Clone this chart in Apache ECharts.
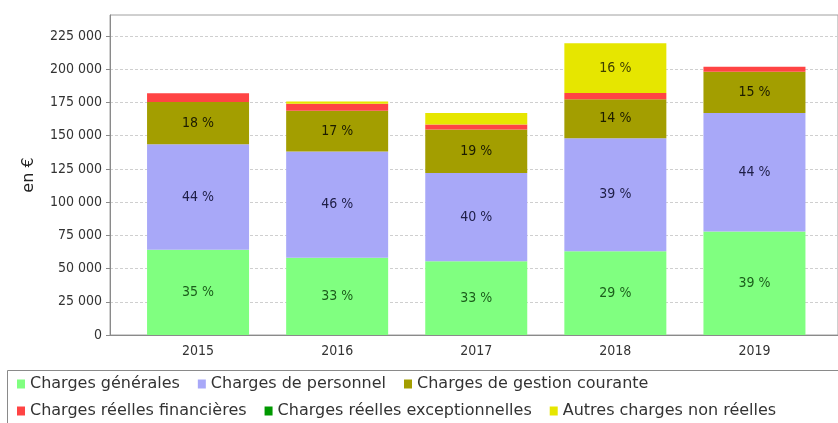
<!DOCTYPE html>
<html>
<head>
<meta charset="utf-8">
<script src="https://cdn.jsdelivr.net/npm/echarts@6/dist/echarts.min.js"></script>
<style>
  html, body { margin: 0; padding: 0; background: #fff; }
  #chart { width: 838px; height: 423px; }
</style>
</head>
<body>
<div id="chart"></div>
<script>
// data
const years = ['2015', '2016', '2017', '2018', '2019'];
const chargesGenerales = [64100, 58100, 55500, 63100, 77900];
const chargesPersonnel = [79400, 80000, 66400, 85000, 89200];
const chargesGestion = [31900, 30700, 32700, 29400, 31000];
const chargesFinancieres = [6600, 5300, 3800, 4700, 3700];
const chargesExceptionnelles = [0, 0, 0, 0, 0];
const autresCharges = [0, 1700, 8700, 37300, 0];

// percentage labels shown in the bars
const pctGenerales = [35, 33, 33, 29, 39];
const pctPersonnel = [44, 46, 40, 39, 44];
const pctGestion = [18, 17, 19, 14, 15];
const pctAutres = [null, null, null, 16, null];

const yTicks = [0, 25000, 50000, 75000, 100000, 125000, 150000, 175000, 200000, 225000];
const yMax = 240840;

const COND = "'DejaVu Sans Condensed', 'DejaVu Sans', sans-serif";
const SANS = "'DejaVu Sans', sans-serif";

const chart = echarts.init(document.getElementById('chart'));

function makeSeries(name, values, color, pct, labelColor) {
  return {
    name: name,
    type: 'bar',
    stack: 'total',
    xAxisIndex: 0,
    yAxisIndex: 0,
    barWidth: 102,
    itemStyle: { color: color },
    label: {
      show: !!pct,
      position: 'inside',
      fontFamily: COND,
      fontSize: 14,
      color: labelColor,
      formatter: (p) => (pct && pct[p.dataIndex] != null ? pct[p.dataIndex] + ' %' : '')
    },
    emphasis: { disabled: true },
    data: values
  };
}

const legendText = { fontFamily: SANS, fontSize: 16, color: '#333', padding: [0, 0, 0, 0] };

const option = {
  animation: false,
  grid: [
    // bars
    { left: 128.5, top: 15, width: 695.5, bottom: 88 },
    // frame, grid lines and value axis
    { left: 110, top: 15, width: 732, bottom: 88, show: true, borderColor: '#a0a0a0', borderWidth: 1 }
  ],
  xAxis: [
    {
      type: 'category',
      gridIndex: 0,
      data: years,
      axisLine: { show: false },
      axisTick: { show: false },
      axisLabel: { color: '#333', fontFamily: COND, fontSize: 14, margin: 9 }
    },
    {
      type: 'value',
      gridIndex: 1,
      min: 0,
      max: 1,
      axisLine: { show: true, lineStyle: { color: '#8a8a8a' } },
      axisTick: { show: false },
      axisLabel: { show: false },
      splitLine: { show: false }
    }
  ],
  yAxis: [
    { type: 'value', gridIndex: 0, min: 0, max: yMax, show: false, splitLine: { show: false } },
    {
      type: 'value',
      gridIndex: 1,
      min: 0,
      max: yMax,
      interval: 25000,
      name: 'en €',
      nameLocation: 'middle',
      nameGap: 73,
      nameTextStyle: { fontFamily: SANS, fontSize: 16, color: '#222' },
      axisLine: { show: true, onZero: false, lineStyle: { color: '#8a8a8a' } },
      axisTick: { show: true, customValues: yTicks, length: 4, lineStyle: { color: '#8a8a8a' } },
      splitLine: { lineStyle: { color: '#cfcfcf', type: [3, 2] } },
      axisLabel: {
        customValues: yTicks,
        formatter: (v) => String(v).replace(/\B(?=(\d{3})+(?!\d))/g, ' '),
        color: '#333',
        fontFamily: COND,
        fontSize: 14,
        margin: 8
      }
    }
  ],
  legend: [
    {
      left: 12,
      top: 371,
      itemWidth: 8,
      itemHeight: 9,
      itemGap: 18,
      icon: 'rect',
      textStyle: legendText,
      data: ['Charges générales', 'Charges de personnel', 'Charges de gestion courante']
    },
    {
      left: 12,
      top: 398,
      itemWidth: 8,
      itemHeight: 9,
      itemGap: 18,
      icon: 'rect',
      textStyle: legendText,
      data: ['Charges réelles financières', 'Charges réelles exceptionnelles', 'Autres charges non réelles']
    }
  ],
  graphic: [
    {
      type: 'rect',
      left: 5,
      top: 368,
      shape: { width: 850, height: 70 },
      style: { fill: 'none', stroke: '#8a8a8a', lineWidth: 1 },
      silent: true
    }
  ],
  series: [
    makeSeries('Charges générales', chargesGenerales, '#80ff80', pctGenerales, '#1b5e1b'),
    makeSeries('Charges de personnel', chargesPersonnel, '#a8a8f8', pctPersonnel, '#1e1e46'),
    makeSeries('Charges de gestion courante', chargesGestion, '#a39e00', pctGestion, '#1c1c00'),
    makeSeries('Charges réelles financières', chargesFinancieres, '#ff4444', null, '#000'),
    makeSeries('Charges réelles exceptionnelles', chargesExceptionnelles, '#009900', null, '#000'),
    makeSeries('Autres charges non réelles', autresCharges, '#e6e600', pctAutres, '#3f3f00')
  ]
};

chart.setOption(option);
</script>
</body>
</html>
